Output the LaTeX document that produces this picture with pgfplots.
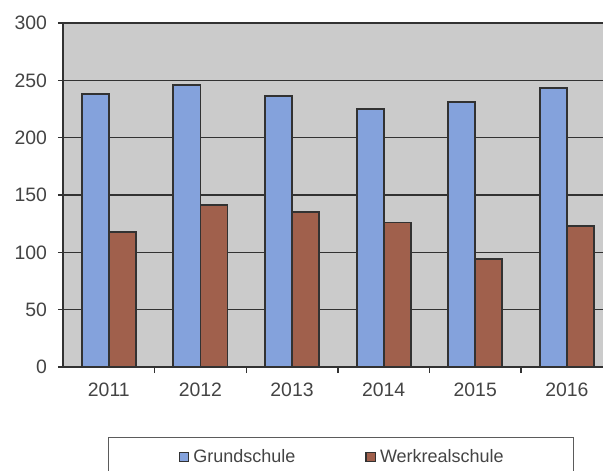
\documentclass[border=0pt]{standalone}
\usepackage{pgfplots}
\pgfplotsset{compat=1.18}
\usepackage{fontspec}
\setmainfont{Liberation Sans}
\definecolor{bgray}{RGB}{203,203,203}
\definecolor{gsblue}{RGB}{132,162,220}
\definecolor{wrbrown}{RGB}{160,96,76}
\definecolor{txt}{RGB}{68,68,68}
\definecolor{gridc}{RGB}{50,50,50}
\begin{document}
\begin{tikzpicture}
\path[use as bounding box] (0,0) rectangle (301.5pt,235pt);
% legend frame (bottom is cut off in the scan)
\draw[gridc!80, line width=0.5pt] (54pt,-10pt) rectangle (286.5pt,16.5pt);
\begin{axis}[
    at={(31.5pt,51.5pt)}, anchor=south west,
    scale only axis, width=270pt, height=172pt,
    xmin=-0.5, xmax=5.395, ymin=0, ymax=300,
    ybar=0pt, bar width=0.295,
    axis background/.style={fill=bgray},
    axis x line*=bottom, axis y line*=left,
    axis line style={gridc, line width=0.9pt},
    xtick={0,...,5},
    xticklabels={2011,2012,2013,2014,2015,2016},
    major x tick style={draw=none},
    minor xtick={0.5,1.5,2.5,3.5,4.5},
    minor tick length=3pt,
    major tick length=2.5pt,
    tick align=outside,
    tick style={gridc, line width=0.7pt},
    ytick={0,50,...,300},
    ymajorgrids, grid style={gridc, line width=0.8pt},
    ticklabel style={font=\fontsize{9.7}{11}\selectfont, text=txt},
    /pgf/number format/assume math mode=true,
    /pgf/number format/1000 sep={},
    yticklabel style={xshift=-2pt},
    xticklabel style={yshift=-2pt},
    legend columns=2,
    legend style={draw=none, fill=none, at={(0.519,-0.262)}, anchor=center,
        font=\fontsize{9}{11}\selectfont, text=txt,
        /tikz/every even column/.append style={column sep=33pt}},
    legend image code/.code={\draw[#1, draw=gridc, line width=0.7pt] (0pt,-2.3pt) rectangle (4.6pt,2.3pt);},
]
\addplot[fill=gsblue, draw=gridc, line width=0.9pt] coordinates {(0,238) (1,246) (2,236) (3,225) (4,231) (5,243)};
\addplot[fill=wrbrown, draw=gridc, line width=0.9pt] coordinates {(0,118) (1,141) (2,135) (3,126) (4,94) (5,123)};
\legend{Grundschule, Werkrealschule}
\end{axis}
\end{tikzpicture}
\end{document}
